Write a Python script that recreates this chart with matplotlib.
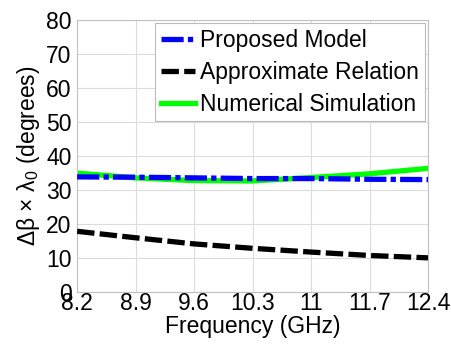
import matplotlib
matplotlib.use("Agg")
import matplotlib.pyplot as plt
import numpy as np

plt.rcParams['font.family'] = ['Liberation Sans', 'DejaVu Sans']
plt.rcParams['mathtext.fontset'] = 'custom'
plt.rcParams['mathtext.rm'] = 'Liberation Sans'
plt.rcParams['mathtext.it'] = 'Liberation Sans'

freq = [8.2, 8.9, 9.6, 10.3, 11.0, 11.7, 12.4]
xticks = [8.2, 8.9, 9.6, 10.3, 11, 11.7, 12.4]
xticklabels = ['8.2', '8.9', '9.6', '10.3', '11', '11.7', '12.4']
yticks = [0, 10, 20, 30, 40, 50, 60, 70, 80]

proposed = [33.9, 33.8, 33.6, 33.4, 33.4, 33.2, 33.1]
approx = [17.9, 16.0, 14.2, 12.9, 11.8, 10.8, 10.1]
numerical = [35.0, 33.6, 32.8, 32.7, 33.7, 34.8, 36.4]

fig = plt.figure(figsize=(4.51, 3.45), dpi=100)
ax = fig.add_axes([0.171, 0.153, 0.778, 0.789])

ax.plot(freq, proposed, color='#0000ff', lw=3.8, linestyle=(0, (4.2, 0.8, 1, 0.8)),
        label='Proposed Model', zorder=3)
ax.plot(freq, approx, color='black', lw=3.8, linestyle=(0, (3.3, 1.0)),
        label='Approximate Relation', zorder=3)
ax.plot(freq, numerical, color='#00ff00', lw=3.8, linestyle='-',
        label='Numerical Simulation', zorder=2)

ax.set_xlim(8.2, 12.4)
ax.set_ylim(0, 80)
ax.set_xticks(xticks)
ax.set_xticklabels(xticklabels)
ax.set_yticks(yticks)
ax.tick_params(axis='x', length=0, labelsize=16.5, pad=0)
ax.tick_params(axis='y', length=0, labelsize=16.5, pad=4)
ax.grid(True, color='#dcdcdc', lw=0.8)
for s in ax.spines.values():
    s.set_color('#c0c0c0')
    s.set_linewidth(0.8)

ax.set_xlabel('Frequency (GHz)', fontsize=16.5, labelpad=0)
ax.set_ylabel('Δβ × λ$_0$ (degrees)', fontsize=16.5, labelpad=3)

leg = ax.legend(loc='upper right', fontsize=16.5, frameon=True, fancybox=False,
                borderpad=0.25, labelspacing=0.38, handlelength=1.5,
                handletextpad=0.2, borderaxespad=0.15)
leg.get_frame().set_edgecolor('#bbbbbb')
leg.get_frame().set_linewidth(0.8)
leg.get_frame().set_alpha(1.0)

fig.savefig('out.png', dpi=100)
